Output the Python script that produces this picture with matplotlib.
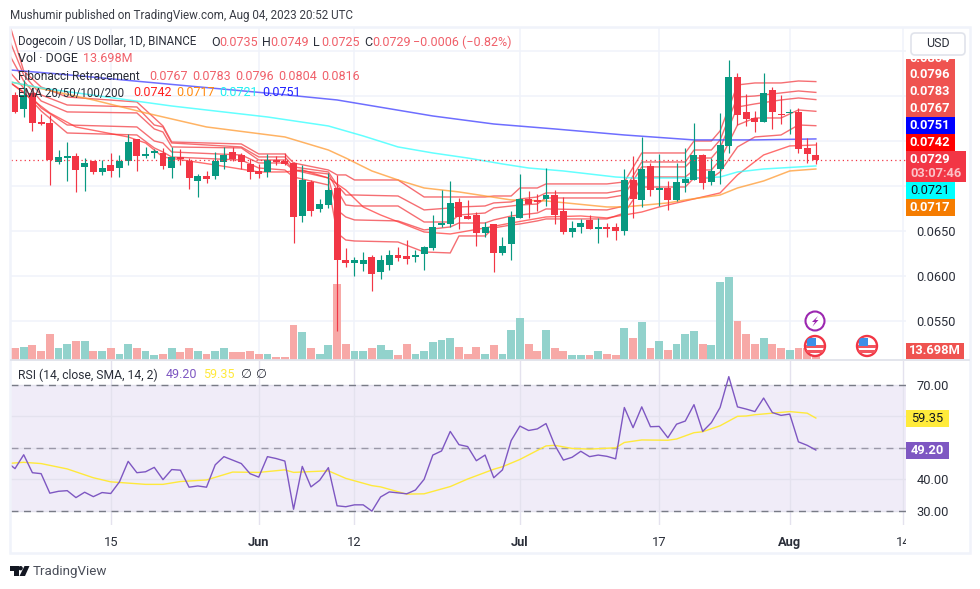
import numpy as np
import matplotlib
matplotlib.use("Agg")
import matplotlib.pyplot as plt
import matplotlib.patches as patches
from matplotlib.transforms import Bbox

plt.rcParams['font.family'] = ['Roboto', 'DejaVu Sans']

# --- candles, one per day from May 4 ---
opens = [.08012,.07856,.08034,.07712,.07700,.07267,.07311,.07334,.07212,.07278,
         .07156,.07234,.07200,.07278,.07523,.07334,.07367,.07367,.07200,.07322,
         .07278,.07056,.07111,.07111,.07267,.07378,.07345,.07245,.07167,.07156,
         .07289,.07278,.07256,.06667,.07045,.06745,.06789,.06978,.06178,.06145,
         .06134,.06211,.06045,.06123,.06234,.06223,.06211,.06245,.06311,.06567,
         .06578,.06823,.06667,.06678,.06478,.06578,.06256,.06356,.06645,.06856,
         .06845,.06856,.06900,.06723,.06489,.06545,.06623,.06523,.06545,.06545,
         .06500,.07067,.06845,.07223,.06956,.06978,.06845,.07034,.07067,.07345,
         .07045,.07189,.07445,.08211,.07823,.07756,.07712,.08067,.07800,.07812,
         .07823,.07423,.07350]
highs = [.08045,.08178,.08045,.07800,.07789,.07400,.07489,.07367,.07311,.07278,
         .07289,.07367,.07345,.07578,.07523,.07434,.07411,.07423,.07434,.07411,
         .07311,.07134,.07167,.07378,.07434,.07434,.07367,.07300,.07245,.07356,
         .07334,.07367,.07267,.07234,.07067,.06856,.07145,.07123,.06311,.06211,
         .06267,.06234,.06234,.06289,.06323,.06400,.06289,.06334,.06678,.06956,
         .07056,.06867,.06845,.06711,.06600,.06578,.06434,.06723,.07134,.06945,
         .06912,.07200,.06956,.06878,.06612,.06634,.06678,.06645,.06589,.06589,
         .07189,.07334,.07545,.07256,.07356,.07056,.07256,.07423,.07700,.07356,
         .07311,.07812,.08400,.08256,.08023,.07834,.08256,.08100,.08012,.07856,
         .07867,.07534,.07490]
lows = [.07812,.07767,.07612,.07678,.07011,.07245,.07056,.06934,.06945,.07134,
        .07123,.07100,.07100,.07234,.07167,.07311,.07311,.07189,.07089,.07234,
        .06967,.06878,.07034,.07078,.07189,.07278,.07189,.07078,.07089,.07100,
        .07234,.07234,.06367,.06600,.06667,.06711,.06756,.05390,.06100,.05999,
        .06056,.05834,.05967,.06067,.06167,.06134,.06156,.06067,.06289,.06545,
        .06545,.06523,.06634,.06334,.06434,.06045,.06234,.06178,.06645,.06645,
        .06723,.06778,.06578,.06467,.06434,.06478,.06523,.06367,.06434,.06400,
        .06456,.06645,.06767,.06889,.06778,.06734,.06834,.06934,.07067,.06967,
        .07011,.07023,.07367,.07678,.07667,.07600,.07712,.07634,.07689,.07578,
        .07367,.07256,.07250]
closes = [.07823,.08012,.07701,.07689,.07289,.07322,.07334,.07178,.07256,.07156,
          .07200,.07167,.07278,.07489,.07334,.07356,.07389,.07223,.07322,.07300,
          .07089,.07111,.07078,.07278,.07345,.07300,.07267,.07156,.07134,.07289,
          .07267,.07245,.06656,.07067,.06723,.06801,.06956,.06178,.06145,.06178,
          .06178,.06023,.06178,.06234,.06200,.06189,.06234,.06323,.06545,.06589,
          .06812,.06656,.06634,.06478,.06545,.06256,.06334,.06656,.06856,.06800,
          .06823,.06900,.06678,.06489,.06534,.06589,.06523,.06545,.06523,.06500,
          .07067,.06856,.07189,.06956,.06978,.06845,.07045,.07078,.07345,.07034,
          .07167,.07456,.08211,.07789,.07745,.07712,.08034,.07823,.07789,.07823,
          .07412,.07356,.07290]
volumes = [15.1,17.8,19.2,11.0,35.6,16.4,21.9,24.7,26.0,11.0,11.0,16.4,8.2,20.6,15.1,11.0,5.5,8.2,16.4,
           9.6,15.1,11.0,6.9,12.3,15.1,9.6,9.6,12.3,6.9,6.9,4.1,4.1,46.6,37.0,15.1,8.2,19.2,
           104.1,20.6,11.0,11.0,16.4,19.2,13.7,5.5,20.6,8.2,12.3,23.3,27.4,28.8,17.8,8.2,17.8,6.9,19.2,8.2,
           41.1,56.2,21.9,12.3,41.1,15.1,12.3,5.5,5.5,5.5,11.0,6.9,5.5,43.8,30.1,50.7,15.1,26.0,13.7,21.9,
           34.3,38.4,21.9,19.2,105.5,113.7,53.4,35.6,21.9,28.8,21.9,15.1,13.7,16.4,15.1,13.698]

# --- fibonacci levels, read at the days where they change ---
fib_days = [-0.5,1,3,6,14,16,17,18,26,28,31,32,36,37,38,39,44,47,50,51,54,55,57,58,60,61,68,70,72,77,78,80,81,83,85,88,90,92]
fib_1 = [.08756,.08278,.08100,.07989,.07934,.07756,.07667,.07489,.07467,.07356,.07356,.07256,.07178,.07123,.07123,.07067,.07067,.06878,.06878,.06878,.06878,.06889,.06889,.06978,.06978,.07023,.07023,.07045,.07367,.07367,.07500,.07500,.07612,.08123,.08145,.08145,.08167,.08160]
fib_2 = [.08589,.08234,.08012,.07900,.07878,.07678,.07656,.07478,.07434,.07323,.07323,.07212,.07156,.07011,.06900,.06900,.06889,.06734,.06756,.06767,.06778,.06812,.06823,.06856,.06878,.06923,.06923,.06956,.07267,.07267,.07400,.07400,.07512,.07989,.08000,.08034,.08056,.08040]
fib_3 = [.08434,.08167,.07945,.07823,.07812,.07634,.07600,.07434,.07423,.07289,.07289,.07178,.07134,.06956,.06789,.06778,.06778,.06600,.06600,.06678,.06700,.06756,.06778,.06789,.06800,.06867,.06867,.06900,.07212,.07212,.07311,.07311,.07423,.07878,.07912,.07956,.07978,.07960]
fib_4 = [.08256,.08089,.07867,.07678,.07656,.07500,.07478,.07378,.07345,.07256,.07256,.07178,.07089,.06734,.06656,.06623,.06612,.06512,.06545,.06589,.06589,.06623,.06667,.06678,.06700,.06745,.06734,.06778,.07100,.07100,.07178,.07178,.07289,.07678,.07756,.07756,.07845,.07830]
fib_5 = [.08145,.08045,.07834,.07589,.07567,.07423,.07378,.07322,.07289,.07200,.07178,.07100,.07011,.06478,.06400,.06389,.06378,.06267,.06256,.06445,.06445,.06534,.06567,.06578,.06612,.06634,.06634,.06700,.06989,.06989,.07089,.07089,.07156,.07434,.07545,.07567,.07678,.07670]

# --- moving averages ---
ema20_days = [-0.5,4,7,13,15,17,23,28,31,33,36,38,40,42,47,50,54,57,61,65,68,70,72,74,77,81,83,86,89,92]
ema20 = [.08145,.07812,.07656,.07545,.07478,.07322,.07234,.07156,.07156,.07178,.07089,.06956,.06767,.06678,.06489,.06467,.06534,.06589,.06656,.06667,.06645,.06678,.06711,.06767,.06834,.06923,.07123,.07345,.07445,.07456]
ema50_days = [-0.5,9,15,22,31,36,38,41,44,47,51,57,61,68,70,75,77,81,83,86,89,92]
ema50 = [.08156,.07956,.07812,.07656,.07545,.07400,.07311,.07167,.07067,.06978,.06934,.06845,.06834,.06767,.06767,.06812,.06845,.06900,.06978,.07056,.07167,.07189]
ema100_days = [-0.5,3,18,29,36,40,44,48,52,56,59,63,69,71,78,81,83,86,92]
ema100 = [.08156,.08089,.07889,.07767,.07667,.07556,.07434,.07367,.07311,.07245,.07200,.07167,.07100,.07089,.07089,.07100,.07156,.07189,.07223]
ema200_days = [-0.5,5,10,20,30,37,48,55,62,70,78,85,92]
ema200 = [.08289,.08245,.08200,.08111,.08023,.07956,.07778,.07689,.07634,.07567,.07512,.07512,.07523]

# --- rsi pane, first value is the day before the first candle ---
rsi = [45.5,43.3,47.7,42.0,41.7,35.5,36.1,36.3,34.1,35.8,34.4,35.7,35.4,39.1,45.6,42.0,42.3,43.7,39.8,43.0,42.8,
       37.4,37.8,37.4,44.5,47.1,46.0,44.9,41.7,40.6,47.1,46.5,45.7,30.4,44.0,37.5,39.6,43.6,31.5,31.2,31.8,31.8,
       29.8,34.3,35.9,35.6,35.3,36.5,39.9,47.6,48.9,55.1,50.9,50.3,45.8,47.6,40.4,42.9,52.2,56.8,55.4,55.9,57.6,
       50.8,46.0,46.9,48.8,47.1,47.6,47.2,46.4,62.7,56.3,62.9,56.6,56.7,53.1,57.4,58.4,63.6,55.1,57.9,62.7,72.5,
       62.9,62.2,61.4,65.7,61.1,60.2,60.6,51.8,50.7,49.2]
rsi_sma_days = [-0.5,1,3,6,9,11,15,17,19,22,25,28,31,32,36,38,41,42,45,47,50,52,55,56,58,61,62,64,66,69,70,72,75,76,78,79,81,83,84,85,89,91,92]
rsi_sma = [45.0,45.3,44.9,43.2,40.4,39.1,38.3,38.3,39.2,39.7,42.2,42.1,42.9,42.1,42.6,40.2,37.9,37.5,35.2,35.3,37.6,40.0,43.1,
           43.9,46.2,50.5,50.7,49.7,49.5,49.9,51.6,52.4,52.3,52.7,54.7,55.0,56.9,59.9,60.0,60.4,61.4,60.9,59.35]

# --- axis ticks and header numbers ---
time_ticks = [11, 28, 39, 58, 74, 89, 102]
time_labels = ['15', 'Jun', '12', 'Jul', '17', 'Aug', '14']
price_grid = [.055, .060, .065, .070, .075, .080, .085]
price_labels = ['0.0550', '0.0600', '0.0650', '', '', '', '']
rsi_grid = [30, 40, 50, 60, 70]
rsi_labels = ['30.00', '40.00', '', '', '70.00']
last_price = .0729

RED = '#f23645'
GREEN = '#089981'
FIB = '#f4555a'
TEXT = '#2a2e39'
GRID = '#f0f3fa'

W, H = 980, 589
fig = plt.figure(figsize=(W / 100, H / 100), dpi=100, facecolor='white')


def pane(top, bottom, left=11, right=905.5):
    return fig.add_axes([left / W, 1 - bottom / H, (right - left) / W, (bottom - top) / H])


def style_pane(ax):
    ax.set_xlim(-0.46, 102.3)
    for s in ax.spines.values():
        s.set_visible(False)


days = np.arange(len(closes))
colors = [GREEN if c >= o else RED for o, c in zip(opens, closes)]
vol_colors = ['#92d2cc' if c >= o else '#f7a9a7' for o, c in zip(opens, closes)]

# three layers for the top pane: grid, volume, price
ax_grid = pane(28, 359.5)
style_pane(ax_grid)
ax_grid.set_ylim(.050722, .087556)
ax_grid.set_xticks(time_ticks)
ax_grid.set_xticklabels([])
ax_grid.set_yticks(price_grid)
ax_grid.set_yticklabels(price_labels, fontsize=9.3, color=TEXT)
ax_grid.yaxis.tick_right()
ax_grid.tick_params(length=0, pad=8)
ax_grid.grid(color=GRID, lw=1.1)

ax_vol = pane(28, 359.5)
style_pane(ax_vol)
ax_vol.patch.set_visible(False)
ax_vol.set_ylim(0, 331.5 * 1.37)
ax_vol.set_xticks([])
ax_vol.set_yticks([])
ax_vol.bar(days, volumes, width=0.9, color=vol_colors)

ax = pane(28, 359.5)
style_pane(ax)
ax.patch.set_visible(False)
ax.set_ylim(.050722, .087556)
ax.set_xticks([])
ax.set_yticks([])
for lvl in [fib_1, fib_2, fib_3, fib_4, fib_5]:
    ax.plot(fib_days, lvl, color=FIB, lw=1.0, alpha=0.85, zorder=2)
ax.plot(ema20_days, ema20, color='#ff3030', lw=1.0, alpha=0.7, zorder=2)
ax.plot(ema50_days, ema50, color='#ff9a30', lw=1.1, alpha=0.75, zorder=2)
ax.plot(ema100_days, ema100, color='#30ffff', lw=1.1, alpha=0.75, zorder=2)
ax.plot(ema200_days, ema200, color='#4a4aff', lw=1.1, alpha=0.8, zorder=2)
ax.vlines(days, lows, highs, colors=colors, lw=0.85, zorder=3)
ax.bar(days, np.abs(np.array(closes) - np.array(opens)), bottom=np.minimum(opens, closes),
       width=0.8, color=colors, zorder=4)
ax.axhline(last_price, color=RED, lw=0.9, ls=(0, (1, 2.5)), zorder=5)

# rsi pane
ax_rsi = pane(361, 525)
style_pane(ax_rsi)
ax_rsi.set_ylim(25.4, 77.46)
ax_rsi.axhspan(30, 70, color='#7e57c2', alpha=0.11, lw=0, zorder=0)
ax_rsi.set_xticks(time_ticks)
ax_rsi.set_xticklabels(time_labels, fontsize=9.3, color=TEXT)
for lab, txt in zip(ax_rsi.get_xticklabels(), time_labels):
    if txt in ('Jun', 'Jul', 'Aug'):
        lab.set_fontweight('bold')
    lab.set_clip_on(True)
    lab.set_clip_box(Bbox([[0, 0], [906, H]]))
ax_rsi.set_yticks(rsi_grid)
ax_rsi.set_yticklabels(rsi_labels, fontsize=9.3, color=TEXT)
ax_rsi.yaxis.tick_right()
ax_rsi.tick_params(length=0)
ax_rsi.tick_params(axis='y', pad=8)
ax_rsi.tick_params(axis='x', pad=8)
ax_rsi.grid(color='#e4e2ee', lw=1.0, zorder=1)
for level, col in [(70, '#787b86'), (30, '#787b86'), (50, '#9a98a8')]:
    ax_rsi.axhline(level, color=col, lw=1.0, ls=(0, (5, 4)), zorder=2)
ax_rsi.plot(rsi_sma_days, rsi_sma, color='#ffe93b', lw=1.0, zorder=3)
ax_rsi.plot(np.arange(-1, len(closes)), rsi, color='#7e57c2', lw=1.0, zorder=4)

# everything else sits on a pixel overlay
ov = fig.add_axes([0, 0, 1, 1], zorder=10)
ov.set_xlim(0, W)
ov.set_ylim(H, 0)
ov.axis('off')


def put(x, y, s, color=TEXT, size=9.3, ha='left', **kw):
    return ov.text(x, y, s, color=color, fontsize=size, ha=ha, va='center', **kw)


def tag(x0, y0, x1, y1, color):
    ov.add_patch(patches.Rectangle((x0, y0), x1 - x0, y1 - y0, facecolor=color, edgecolor='none'))


# frame and separators
ov.add_patch(patches.Rectangle((10, 27), 959.5, 526, fill=False, edgecolor=GRID, lw=1.8))
ov.plot([11, 969], [360, 360], color='#e0e3eb', lw=1.3)

put(10, 15, 'Mushumir published on TradingView.com, Aug 04, 2023 20:52 UTC', color='#3a3d46', size=8.4)

# chart legend rows
LEG = '#f0606a'
LS = 9.0
put(18, 42, 'Dogecoin / US Dollar, 1D, BINANCE', size=8.3)
for x, lab, val in [(211, 'O', '0.0735'), (262, 'H', '0.0749'), (313, 'L', '0.0725'), (364, 'C', '0.0729')]:
    put(x, 42, lab, size=LS)
    put(x + 8, 42, val, color=LEG, size=LS)
put(413, 42, '\u22120.0006 (\u22120.82%)', color=LEG, size=LS)
put(18, 59, 'Vol \u00b7 DOGE', size=LS)
put(83, 59, '13.698M', color=LEG, size=LS)
put(18, 76, 'Fibonacci Retracement', size=8.6)
for x, val in zip([149, 192, 235, 278, 321], ['0.0767', '0.0783', '0.0796', '0.0804', '0.0816']):
    put(x, 76, val, color=LEG, size=LS)
put(18, 93, 'EMA 20/50/100/200', size=8.3)
for x, val, col in [(133, '0.0742', '#ff2020'), (176, '0.0717', '#ff8a10'), (219, '0.0721', '#20f0f0'), (262, '0.0751', '#2020ff')]:
    put(x, 93, val, color=col, size=LS)
put(18, 375, 'RSI (14, close, SMA, 14, 2)', size=8.75)
put(166, 375, '49.20', color='#7e57c2', size=LS)
put(203, 375, '59.35', color='#ffe93b', size=LS)
put(240, 375, '\u2205', size=LS)
put(255, 375, '\u2205', size=LS)

# USD button
ov.add_patch(patches.FancyBboxPatch((911, 33), 54, 22, boxstyle='round,pad=0,rounding_size=4',
                                    facecolor='white', edgecolor='#e0e3eb', lw=1.2))
put(938, 43.5, 'USD', ha='center', size=9.0)

# price axis tags
cx = 930
tag(906, 59, 955, 117, '#ef5350')
clipped = put(cx, 58, '0.0804', color='white', ha='center', fontweight='bold')
clipped.set_clip_on(True)
clipped.set_clip_box(Bbox([[0, 0], [W, H - 59]]))
put(cx, 74.5, '0.0796', color='white', ha='center', fontweight='bold')
put(cx, 91.5, '0.0783', color='white', ha='center', fontweight='bold')
put(cx, 108.5, '0.0767', color='white', ha='center', fontweight='bold')
tag(906, 117, 955, 134, '#0000ff')
put(cx, 125.5, '0.0751', color='white', ha='center', fontweight='bold')
tag(906, 134, 955, 151, '#ff0000')
put(cx, 142.5, '0.0742', color='white', ha='center', fontweight='bold')
tag(906, 151, 966, 182, RED)
put(cx, 159.5, '0.0729', color='white', ha='center', fontweight='bold')
put(936, 173.5, '03:07:46', color='#fbc3c8', ha='center', fontweight='bold')
tag(906, 182, 955, 199, '#00ffff')
put(cx, 190.5, '0.0721', color='#131722', ha='center')
tag(906, 199, 955, 216, '#f57c00')
put(cx, 207.5, '0.0717', color='white', ha='center', fontweight='bold')
tag(906, 343, 964, 359, '#ef5350')
put(935, 351, '13.698M', color='white', ha='center', fontweight='bold')
tag(906, 410, 949, 427, '#ffeb3b')
put(927, 418.5, '59.35', color='#131722', ha='center')
tag(906, 442, 949, 459, '#7e57c2')
put(927, 450.5, '49.20', color='white', ha='center', fontweight='bold')

# event markers above the volume bars
ov.add_patch(patches.Circle((815, 321), 9.5, facecolor='white', edgecolor='#9c27b0', lw=1.5))
ov.add_patch(patches.Polygon([(818, 316), (812, 322), (815, 322), (812.5, 326.5), (818.5, 320), (815.5, 320)],
                             facecolor='#9c27b0', edgecolor='none'))
for fx in [815, 867]:
    rim = patches.Circle((fx, 346), 10, facecolor='white', edgecolor=RED, lw=1.7)
    ov.add_patch(rim)
    for yy in [346, 351]:
        stripe = patches.Rectangle((fx - 9, yy - 1), 18, 2.5, facecolor='#f2555f', edgecolor='none')
        ov.add_patch(stripe)
        stripe.set_clip_path(rim)
    canton = patches.Rectangle((fx - 8.5, 338), 9.5, 8, facecolor='#3d8fe8', edgecolor='none')
    ov.add_patch(canton)
    canton.set_clip_path(rim)

# TradingView logo
LOGO = '#131722'
ov.add_patch(patches.Polygon([(10, 566), (18.5, 566), (18.5, 576), (14, 576), (14, 570.5), (10, 570.5)], facecolor=LOGO, edgecolor='none'))
ov.add_patch(patches.Circle((20.6, 568.2), 2.2, facecolor=LOGO, edgecolor='none'))
ov.add_patch(patches.Polygon([(24.5, 566), (29.5, 566), (25, 576), (19.5, 576)], facecolor=LOGO, edgecolor='none'))
put(33, 572, 'TradingView', color='#4a4e59', size=9.6)

fig.savefig('out.png', dpi=100)
plt.close(fig)
